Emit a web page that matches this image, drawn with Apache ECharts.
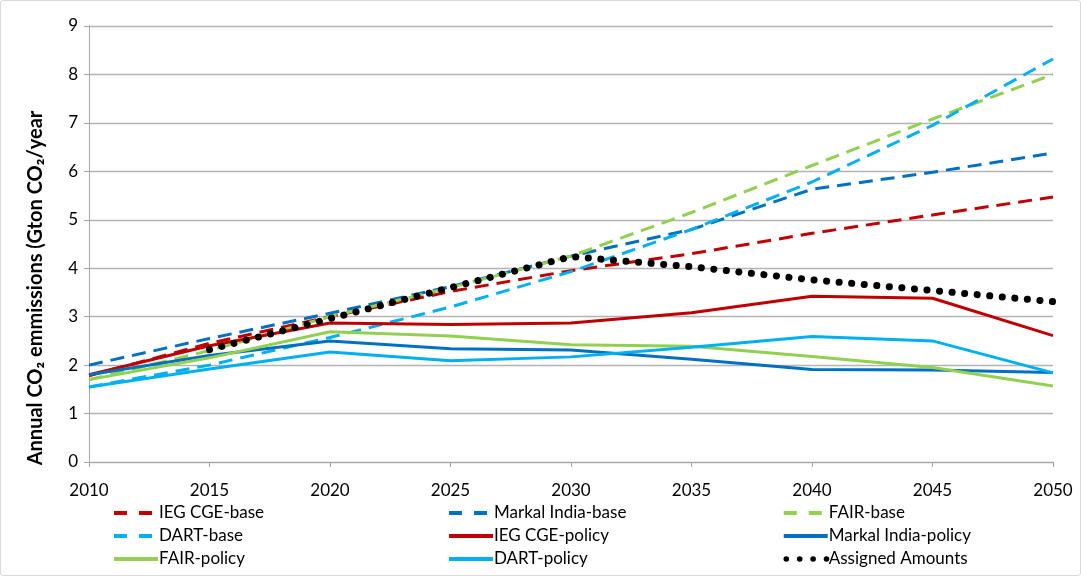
<!DOCTYPE html>
<html><head><meta charset="utf-8">
<script src="https://cdn.jsdelivr.net/npm/echarts@6/dist/echarts.min.js"></script>
<style>html,body{margin:0;padding:0;background:#fff}#c{width:1081px;height:576px;box-sizing:border-box;border:1px solid #d9d9d9;border-radius:3px}</style>
</head><body><div id="c"></div>
<script>
const years = [2010, 2015, 2020, 2025, 2030, 2035, 2040, 2045, 2050];
const iegBase     = [1.78, 2.45, 3.0, 3.52, 3.95, 4.3, 4.72, 5.1, 5.47];
const markalBase  = [2.0, 2.55, 3.07, 3.62, 4.25, 4.8, 5.63, 5.98, 6.38];
const fairBase    = [1.7, 2.3, 3.0, 3.6, 4.25, 5.15, 6.12, 7.08, 8.0];
const dartBase    = [1.55, 2.0, 2.57, 3.2, 3.93, 4.8, 5.78, 6.95, 8.32];
const iegPolicy   = [1.8, 2.4, 2.87, 2.84, 2.87, 3.08, 3.42, 3.38, 2.61];
const markalPolicy= [1.8, 2.2, 2.5, 2.34, 2.31, 2.12, 1.91, 1.9, 1.85];
const fairPolicy  = [1.7, 2.15, 2.69, 2.6, 2.42, 2.39, 2.18, 1.95, 1.57];
const dartPolicy  = [1.55, 1.92, 2.27, 2.09, 2.17, 2.37, 2.59, 2.5, 1.84];
const assigned    = [null, 2.32, 2.96, 3.6, 4.24, 4.03, 3.76, 3.54, 3.31];
const yTicks = [0,1,2,3,4,5,6,7,8,9];
const yTitle = 'Annual CO\u2082 emmissions (Gton CO\u2082/year';

const pair = arr => years.map((y,i)=>[y, arr[i]]).filter(p=>p[1]!==null);
const dash = [14, 8];
const dotted = [0.1, 12.5];
function s(name, data, color, type, width){
  return {name, type:'line', data:pair(data), symbol:'none', smooth:false,
    lineStyle:{color, width:width||3, type, cap: type===dotted?'round':'butt'},
    itemStyle:{color}, emphasis:{disabled:true}};
}
const series = [
  s('IEG CGE-base', iegBase, '#c00000', dash),
  s('Markal India-base', markalBase, '#0070c0', dash),
  s('FAIR-base', fairBase, '#92d050', dash),
  s('DART-base', dartBase, '#00b0f0', dash),
  s('IEG CGE-policy', iegPolicy, '#c00000', 'solid'),
  s('Markal India-policy', markalPolicy, '#0070c0', 'solid'),
  s('FAIR-policy', fairPolicy, '#92d050', 'solid'),
  s('DART-policy', dartPolicy, '#00b0f0', 'solid'),
  s('Assigned Amounts', assigned, '#000000', dotted, 7)
];
const font = 'Lato, "Open Sans", sans-serif';
const legDash = {width:4, type:[13,12], cap:'butt'};
const legSolid = {width:4, type:'solid', cap:'butt'};
const legDot = {width:5.5, type:[0.1,13.3], cap:'round', dashOffset:-2.5};
function li(name, ls){ return {name, lineStyle:ls}; }
const legendBase = {orient:'vertical', top:497, height:100, itemWidth:44, itemHeight:14, itemGap:3,
  itemStyle:{opacity:0},
  textStyle:{fontFamily:font, fontSize:17, lineHeight:20, color:'#000', padding:[0,0,0,-4]}, selectedMode:false};
const chart = echarts.init(document.getElementById('c'));
chart.setOption({
  animation:false,
  grid:{left:88, right:27, top:25, bottom:113, containLabel:false},
  xAxis:{type:'value', min:2010, max:2050, interval:5,
    axisLine:{lineStyle:{color:'#a6a6a6'}}, axisTick:{show:true, length:5, lineStyle:{color:'#a6a6a6'}},
    splitLine:{show:false},
    axisLabel:{fontFamily:font, fontSize:17, color:'#000', margin:20, formatter: v=>String(v)}},
  yAxis:{type:'value', min:0, max:9, interval:1,
    axisLine:{show:true, lineStyle:{color:'#a6a6a6'}}, axisTick:{show:true, length:5, lineStyle:{color:'#a6a6a6'}},
    splitLine:{lineStyle:{color:'#b3b3b3', width:1.3}},
    axisLabel:{fontFamily:font, fontSize:17, color:'#000', margin:11, formatter: v=>yTicks.includes(v)?String(v):''}},
  graphic:[{type:'text', x:35, y:287, rotation:Math.PI/2,
    style:{text:yTitle, align:'center', verticalAlign:'middle', fontFamily:font, fontSize:20, fontWeight:'bold', fill:'#000'}}],
  legend:[
    Object.assign({}, legendBase, {left:106, data:[li('IEG CGE-base',legDash), li('DART-base',legDash), li('FAIR-policy',legSolid)]}),
    Object.assign({}, legendBase, {left:441, data:[li('Markal India-base',legDash), li('IEG CGE-policy',legSolid), li('DART-policy',legSolid)]}),
    Object.assign({}, legendBase, {left:775, data:[li('FAIR-base',legDash), li('Markal India-policy',legSolid), li('Assigned Amounts',legDot)]})
  ],
  series
});
</script></body></html>
